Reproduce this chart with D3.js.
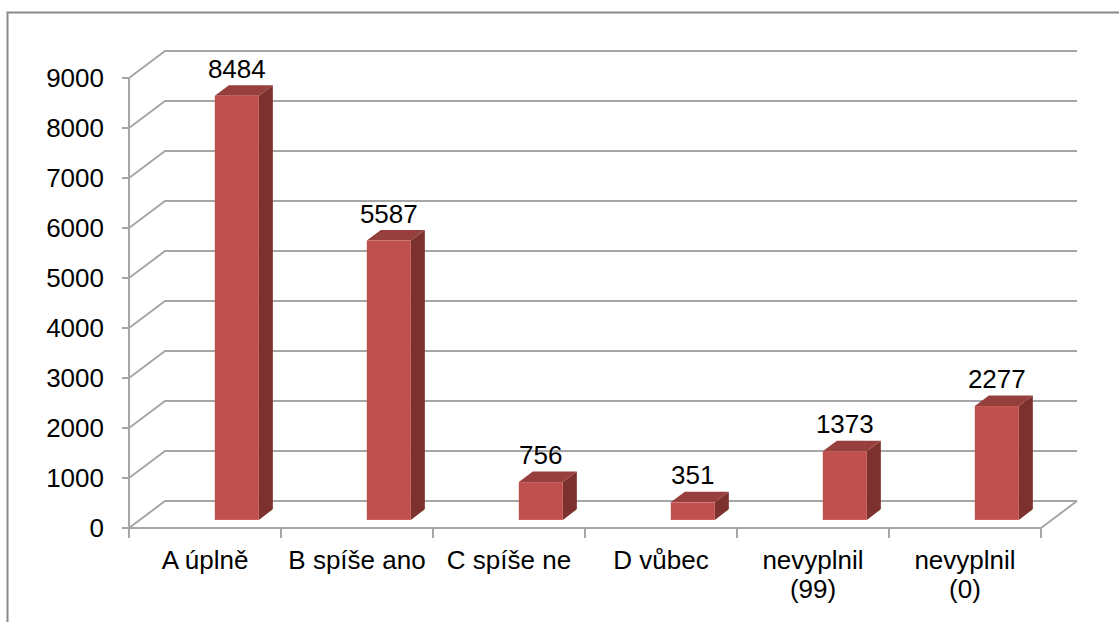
<!DOCTYPE html>
<html>
<head>
<meta charset="utf-8">
<script src="https://cdn.jsdelivr.net/npm/d3@7"></script>
<style>
  html, body { margin: 0; padding: 0; background: #fff; }
  svg { display: block; }
  text { font-family: Arial, "Liberation Sans", sans-serif; fill: #000; }
</style>
</head>
<body>
<div id="chart"></div>
<script>
// chart data
let categories = [ 'A úplně', 'B spíše ano', 'C spíše ne', 'D vůbec', 'nevyplnil|(99)', 'nevyplnil|(0)' ],
    values     = [ 8484, 5587, 756, 351, 1373, 2277 ],
    yTicks     = [ 0, 1000, 2000, 3000, 4000, 5000, 6000, 7000, 8000, 9000 ];

let width  = 1119,
    height = 622,
    depthX = 36,     // floor depth offset
    depthY = -27,
    fontSize = '26px',
    gridColor = '#a6a6a6';

let svg = d3.select('#chart').append('svg')
    .attr('width', width)
    .attr('height', height);

// outer chart border (runs off the right / bottom edge)
svg.append('rect')
    .attr('x', 7.5).attr('y', 12.5)
    .attr('width', 1140).attr('height', 640)
    .attr('fill', 'none')
    .attr('stroke', '#8a8a8a')
    .attr('stroke-width', 2);

let x = d3.scaleBand().domain(categories).range([ 129, 1041 ]),
    y = d3.scaleLinear().domain([ 0, 9000 ]).range([ 528, 78 ]);

// project a point at depth z (0 = front, 1 = back wall)
let px = (xv, z) => xv + depthX * z,
    py = (yv, z) => yv + depthY * z;

let grid = svg.append('g')
    .attr('stroke', gridColor)
    .attr('stroke-width', 2)
    .attr('fill', 'none');

// back wall gridlines + left wall diagonals
yTicks.forEach((t) => {
  grid.append('polyline')
      .attr('points', [
        [ x.range()[0], y(t) ],
        [ px(x.range()[0], 1), py(y(t), 1) ],
        [ px(x.range()[1], 1), py(y(t), 1) ]
      ].join(' '));
});

// floor front edge + right edge
grid.append('polyline')
    .attr('points', [
      [ x.range()[0], y(0) ],
      [ x.range()[1], y(0) ],
      [ px(x.range()[1], 1), py(y(0), 1) ]
    ].join(' '));

// value axis line and ticks
grid.append('line')
    .attr('x1', x.range()[0]).attr('x2', x.range()[0])
    .attr('y1', y(9000)).attr('y2', y(0));

yTicks.forEach((t) => {
  grid.append('line')
      .attr('x1', x.range()[0] - 7).attr('x2', x.range()[0])
      .attr('y1', y(t)).attr('y2', y(t));
});

// category ticks at band edges
let edges = categories.map((c) => x(c)).concat([ x.range()[1] ]);
edges.forEach((e) => {
  grid.append('line')
      .attr('x1', e).attr('x2', e)
      .attr('y1', y(0)).attr('y2', y(0) + 10);
});

// y labels
svg.append('g').selectAll('text')
    .data(yTicks)
    .enter().append('text')
    .attr('x', 104)
    .attr('y', (d) => y(d))
    .attr('dy', '0.36em')
    .attr('text-anchor', 'end')
    .style('font-size', fontSize)
    .text((d) => d);

// category labels, split on |
let catLabels = svg.append('g').selectAll('text')
    .data(categories)
    .enter().append('text')
    .attr('x', (d) => x(d) + x.bandwidth() / 2)
    .attr('y', 569)
    .attr('text-anchor', 'middle')
    .style('font-size', fontSize);

catLabels.each(function (d) {
  let lines = d.split('|');
  d3.select(this).selectAll('tspan')
      .data(lines)
      .enter().append('tspan')
      .attr('x', x(d) + x.bandwidth() / 2)
      .attr('dy', (l, i) => i === 0 ? 0 : 29)
      .text((l) => l);
});

// 3D bars
let barOffset = 75,
    barWidth  = 44,
    z0        = 0.3,
    z1        = 0.69;

let bars = svg.append('g').selectAll('g')
    .data(categories.map((c, i) => ({ cat: c, value: values[ i ] })))
    .enter().append('g');

bars.each(function (d) {
  let g     = d3.select(this),
      left  = x(d.cat) + barOffset,
      right = left + barWidth,
      top   = y(d.value),
      base  = y(0);

  // side face
  g.append('polygon')
      .attr('fill', '#7d312f')
      .attr('points', [
        [ px(right, z0), py(top, z0) ],
        [ px(right, z1), py(top, z1) ],
        [ px(right, z1), py(base, z1) ],
        [ px(right, z0), py(base, z0) ]
      ].join(' '));

  // top face
  g.append('polygon')
      .attr('fill', '#973f3c')
      .attr('points', [
        [ px(left, z0), py(top, z0) ],
        [ px(left, z1), py(top, z1) ],
        [ px(right, z1), py(top, z1) ],
        [ px(right, z0), py(top, z0) ]
      ].join(' '));

  // front face
  g.append('rect')
      .attr('fill', '#c0504d')
      .attr('x', px(left, z0))
      .attr('y', py(top, z0))
      .attr('width', barWidth)
      .attr('height', base - top);

  // value label
  g.append('text')
      .attr('x', px(left, z0) + barWidth / 2)
      .attr('y', py(top, z0) - 18)
      .attr('text-anchor', 'middle')
      .style('font-size', fontSize)
      .text(d.value);
});
</script>
</body>
</html>
